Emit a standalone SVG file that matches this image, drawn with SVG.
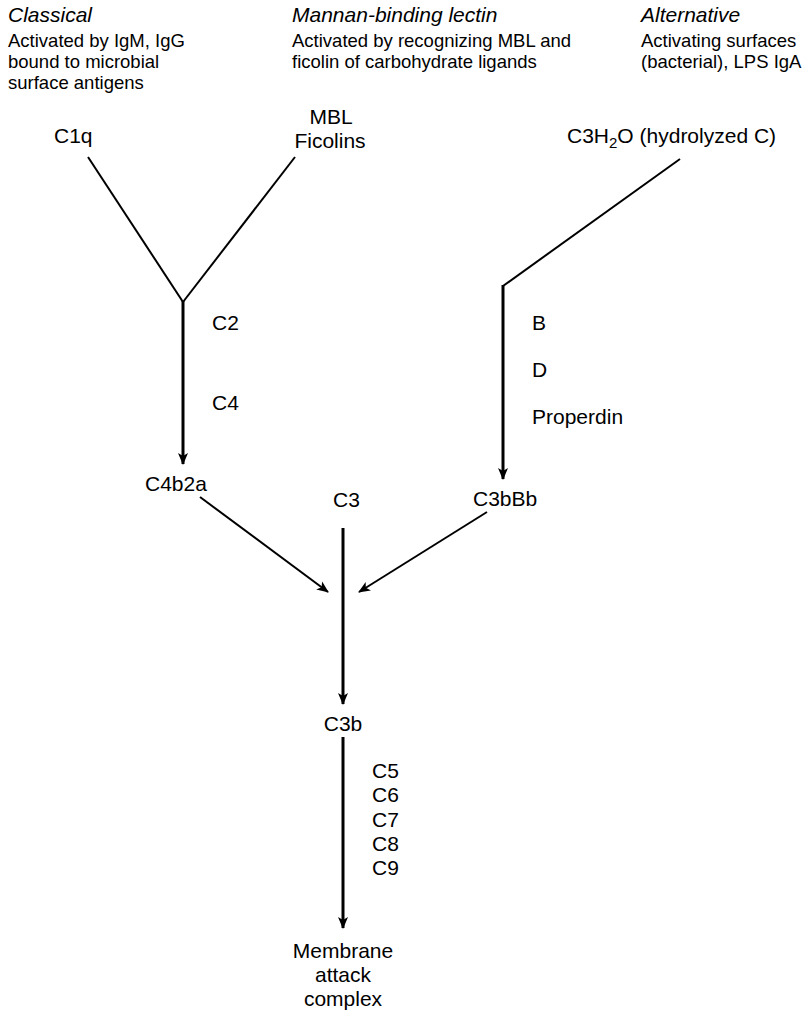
<svg xmlns="http://www.w3.org/2000/svg" width="809" height="1014" viewBox="0 0 809 1014">
<defs>
<style>
text{font-family:"Liberation Sans",Arial,sans-serif;fill:#000}
.t{font-size:21px;font-style:italic}
.d{font-size:18.5px}
.l{font-size:21px}
.c{text-anchor:middle}
.ln{stroke:#000;fill:none;stroke-width:2}
.th{stroke:#000;fill:none;stroke-width:3}
</style>
<marker id="ah" viewBox="0 0 12 12" refX="11" refY="6" markerWidth="12" markerHeight="12" orient="auto" markerUnits="userSpaceOnUse">
<path d="M0,1 L12,6 L0,11 L3,6 Z" fill="#000"/>
</marker>
</defs>
<rect width="809" height="1014" fill="#fff"/>
<g id="classical-header">
<text class="t" x="8" y="22">Classical</text>
<text class="d" x="8" y="47">Activated by IgM, IgG</text>
<text class="d" x="8" y="68">bound to microbial</text>
<text class="d" x="8" y="89">surface antigens</text>
</g>
<g id="lectin-header">
<text class="t" x="292" y="22">Mannan-binding lectin</text>
<text class="d" x="292" y="47">Activated by recognizing MBL and</text>
<text class="d" x="292" y="68">ficolin of carbohydrate ligands</text>
</g>
<g id="alternative-header">
<text class="t" x="641" y="22">Alternative</text>
<text class="d" x="641" y="47">Activating surfaces</text>
<text class="d" x="641" y="68">(bacterial), LPS IgA</text>
</g>
<g id="C1q"><text class="l" x="54" y="143">C1q</text></g>
<g id="MBL"><text class="l c" x="331" y="124">MBL</text><text class="l c" x="330" y="148">Ficolins</text></g>
<g id="C3H2O"><text class="l" x="567" y="143">C3H<tspan font-size="15" dy="5">2</tspan><tspan dy="-5">O (hydrolyzed C)</tspan></text></g>
<g id="C2"><text class="l" x="212" y="330">C2</text></g>
<g id="C4"><text class="l" x="212" y="410">C4</text></g>
<g id="B"><text class="l" x="532" y="330">B</text></g>
<g id="D"><text class="l" x="532" y="377">D</text></g>
<g id="Properdin"><text class="l" x="532" y="424">Properdin</text></g>
<g id="C4b2a"><text class="l" x="145" y="491">C4b2a</text></g>
<g id="C3"><text class="l" x="333" y="507">C3</text></g>
<g id="C3bBb"><text class="l" x="473" y="506">C3bBb</text></g>
<g id="C3b"><text class="l c" x="343" y="731">C3b</text></g>
<g id="C5-C9">
<text class="l" x="372" y="778">C5</text>
<text class="l" x="372" y="802">C6</text>
<text class="l" x="372" y="827">C7</text>
<text class="l" x="372" y="851">C8</text>
<text class="l" x="372" y="875">C9</text>
</g>
<g id="MAC">
<text class="l c" x="343" y="958">Membrane</text>
<text class="l c" x="343" y="982">attack</text>
<text class="l c" x="343" y="1006">complex</text>
</g>
<g id="connectors">
<path class="ln" d="M88,157 L183,302"/>
<path class="ln" d="M295,157 L183,302"/>
<path class="th" d="M183,301 L183,464" marker-end="url(#ah)"/>
<path class="ln" d="M680,159 L503,286"/>
<path class="th" d="M503,285 L503,479" marker-end="url(#ah)"/>
<path class="ln" d="M200,497 L328,592" marker-end="url(#ah)"/>
<path class="ln" d="M487,512 L359,592" marker-end="url(#ah)"/>
<path class="th" d="M343,528 L343,704" marker-end="url(#ah)"/>
<path class="th" d="M343,737 L343,928" marker-end="url(#ah)"/>
</g>
</svg>
